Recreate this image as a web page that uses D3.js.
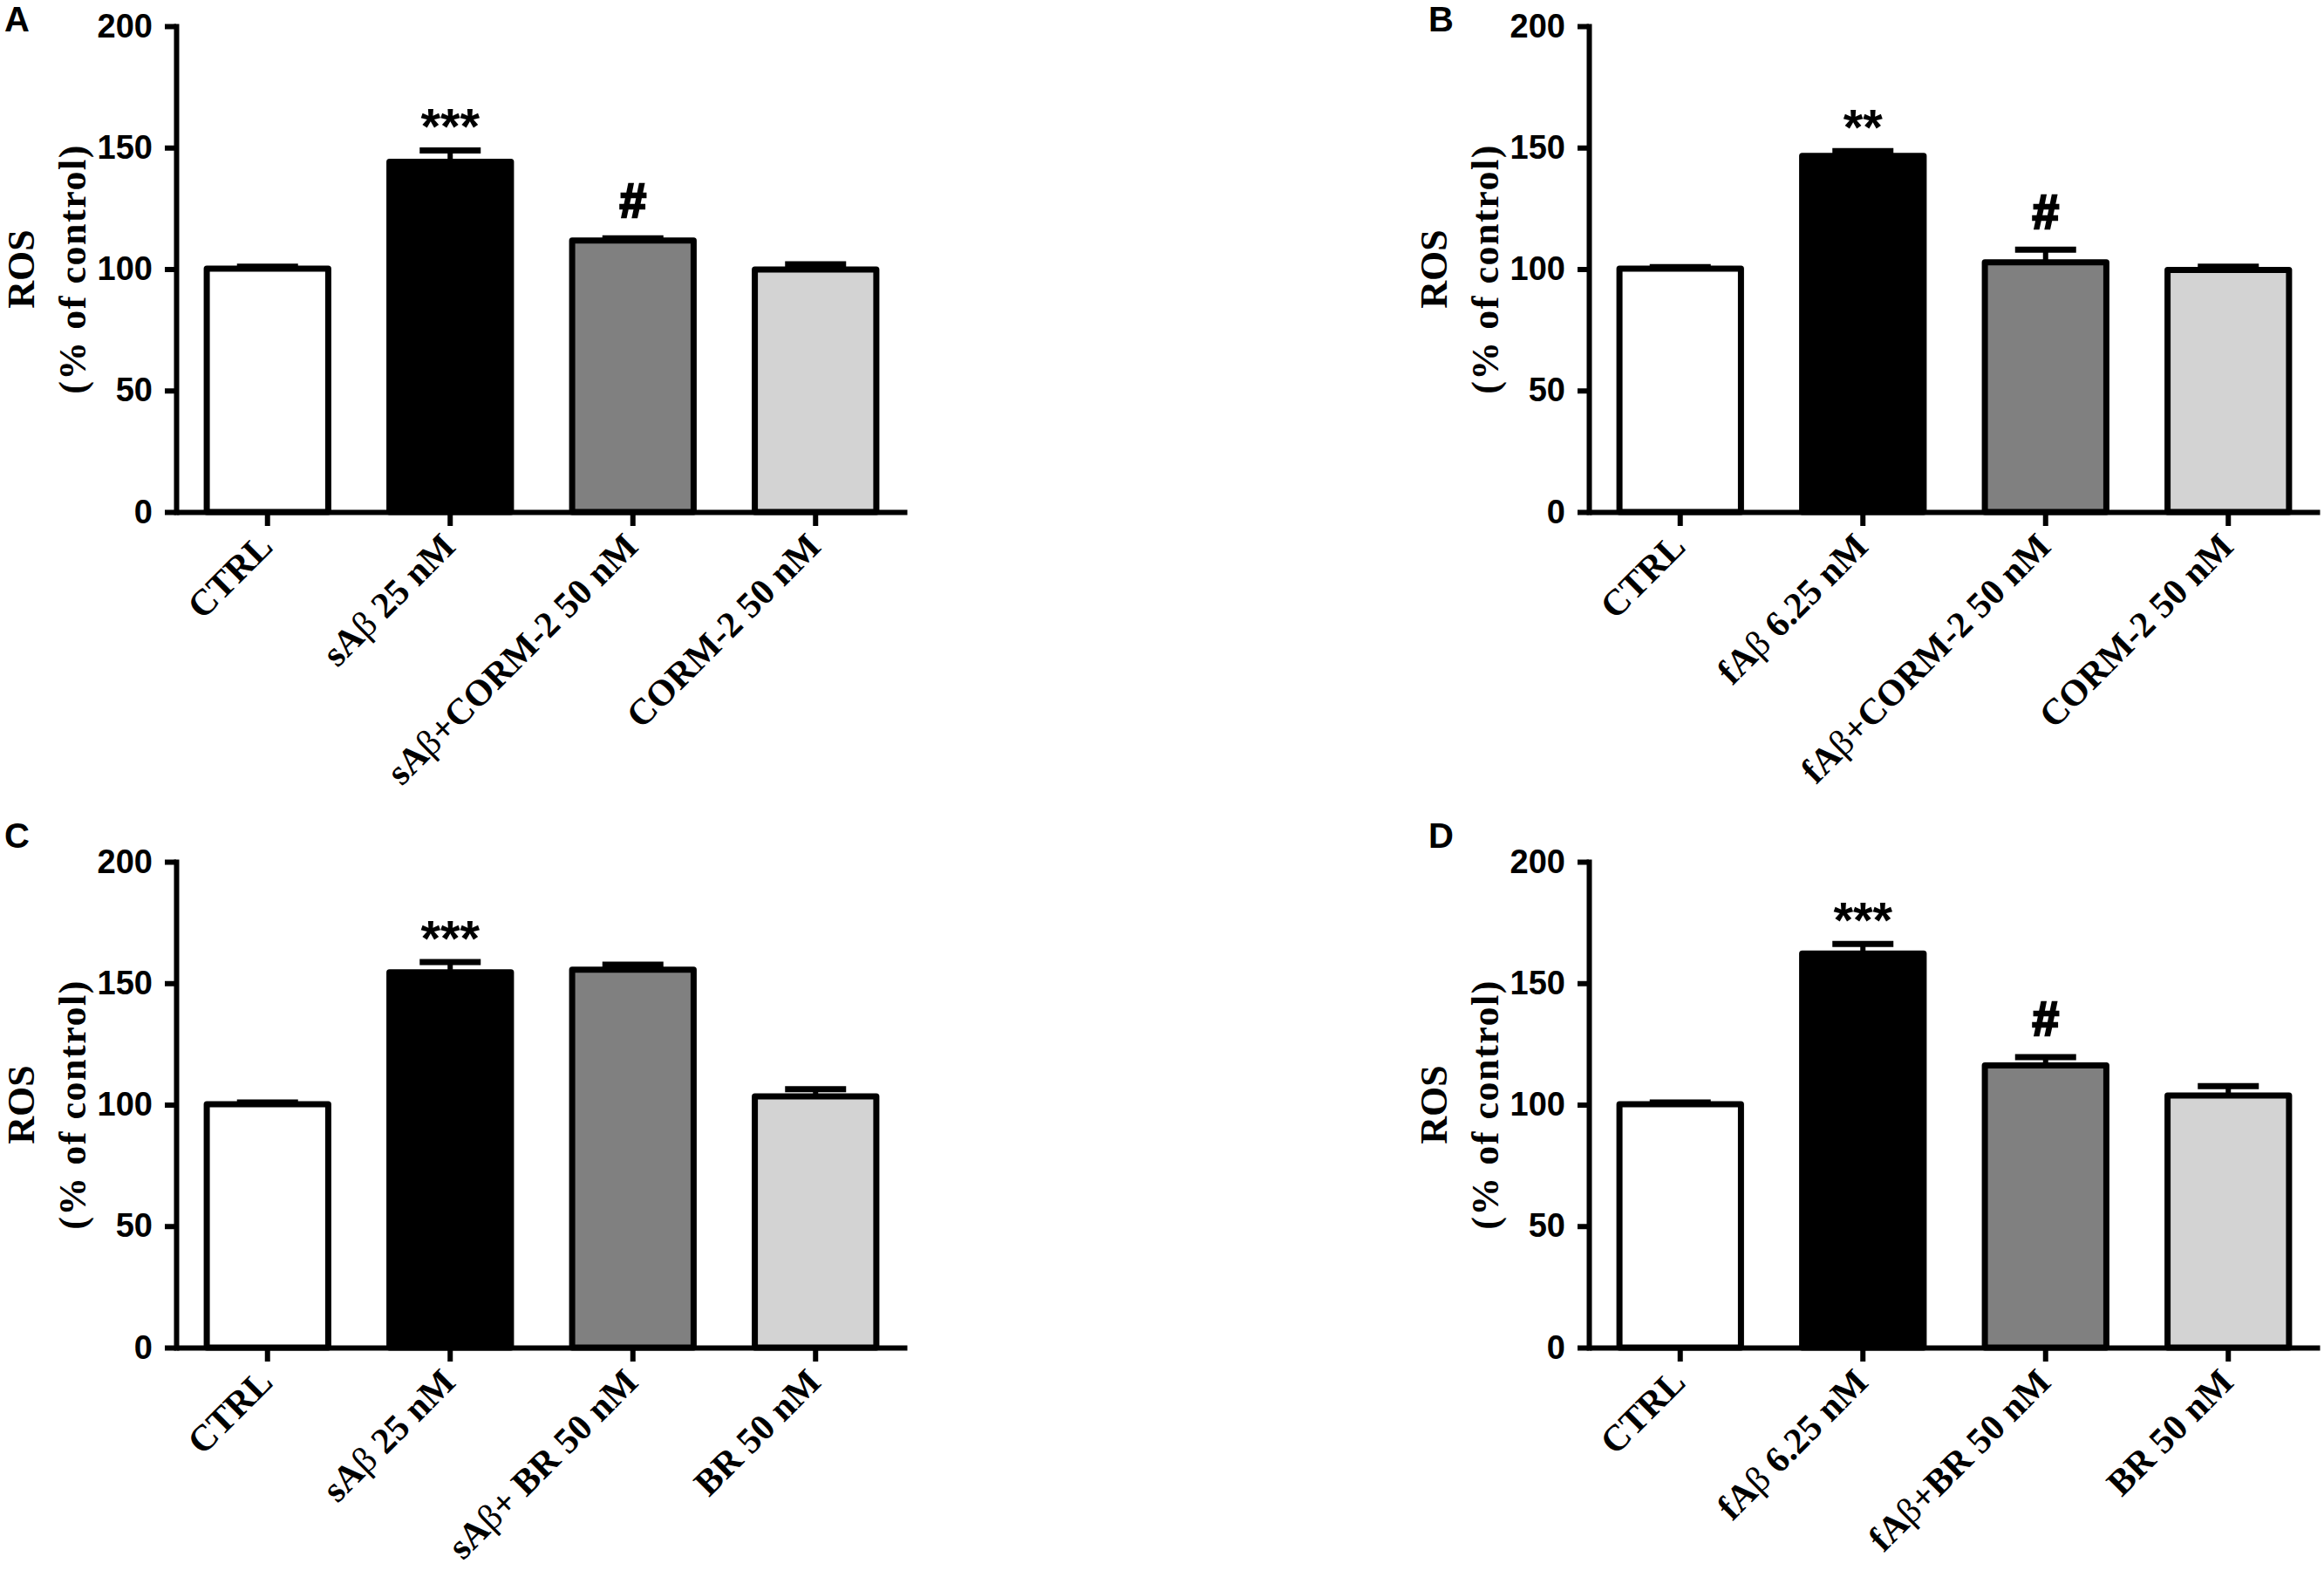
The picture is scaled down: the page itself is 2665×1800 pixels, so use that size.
<!DOCTYPE html>
<html>
<head>
<meta charset="utf-8">
<script src="https://cdn.jsdelivr.net/npm/d3@7"></script>
<style>
  body { margin: 0; background: #ffffff; }
</style>
</head>
<body>
<div id="chart"></div>
<script>
// values (ROS, % of control, mean and SEM)
const categoriesA = ["CTRL", "sAβ 25 nM", "sAβ+CORM-2 50 nM", "CORM-2 50 nM"]
const meansA = [100.2, 144.2, 111.8, 99.8]
const semsA = [0.8, 4.6, 0.9, 2.2]
const marksA = ["", "***", "#", ""]

const categoriesB = ["CTRL", "fAβ 6.25 nM", "fAβ+CORM-2 50 nM", "CORM-2 50 nM"]
const meansB = [100.2, 146.6, 102.8, 99.6]
const semsB = [0.6, 2.0, 5.2, 1.4]
const marksB = ["", "**", "#", ""]

const categoriesC = ["CTRL", "sAβ 25 nM", "sAβ+ BR 50 nM", "BR 50 nM"]
const meansC = [100.2, 154.5, 155.6, 103.4]
const semsC = [0.7, 4.2, 2.0, 3.0]
const marksC = ["", "***", "", ""]

const categoriesD = ["CTRL", "fAβ 6.25 nM", "fAβ+BR 50 nM", "BR 50 nM"]
const meansD = [100.2, 162.2, 116.2, 103.8]
const semsD = [0.7, 4.0, 3.4, 3.8]
const marksD = ["", "***", "#", ""]

const yTicks = [0, 50, 100, 150, 200]
const panelLetters = ["A", "B", "C", "D"]

const barFills = ["#ffffff", "#000000", "#808080", "#d3d3d3"]
const serif = "'Liberation Serif', 'Times New Roman', serif"
const sans = "'Liberation Sans', Arial, sans-serif"

var width = 2665
var height = 1800

var svg = d3.select("#chart")
    .append("svg")
    .attr("width", width)
    .attr("height", height)
    .style("background", "#ffffff")

const panels = [
    { letter: panelLetters[0], cats: categoriesA, means: meansA, sems: semsA, marks: marksA, dx: 0, dy: 0, lx: 5, ly: 36 },
    { letter: panelLetters[1], cats: categoriesB, means: meansB, sems: semsB, marks: marksB, dx: 1620, dy: 0, lx: 1638, ly: 36 },
    { letter: panelLetters[2], cats: categoriesC, means: meansC, sems: semsC, marks: marksC, dx: 0, dy: 958, lx: 5, ly: 972 },
    { letter: panelLetters[3], cats: categoriesD, means: meansD, sems: semsD, marks: marksD, dx: 1620, dy: 958, lx: 1638, ly: 972 }
]

// every panel shares the same frame, only shifted
const x0 = 202, x1 = 1040, yTop = 30, yBottom = 587

function drawPanel(p) {
    // panel letter
    svg.append("text")
        .attr("x", p.lx)
        .attr("y", p.ly)
        .style("font-family", sans)
        .style("font-weight", "bold")
        .style("font-size", "40px")
        .text(p.letter)

    var g = svg.append("g")
        .attr("transform", "translate(" + p.dx + "," + p.dy + ")")

    var y = d3.scaleLinear()
        .domain([0, 200])
        .range([yBottom, yTop])

    var x = d3.scaleBand()
        .domain(p.cats)
        .range([x0, x1])
        .paddingInner(0.335)
        .paddingOuter(0.1675)

    // bars
    g.selectAll(".bar")
        .data(p.cats)
        .enter().append("rect")
        .attr("class", "bar")
        .attr("x", d => x(d))
        .attr("width", x.bandwidth())
        .attr("y", (d, i) => y(p.means[i]))
        .attr("height", (d, i) => y(0) - y(p.means[i]))
        .style("fill", (d, i) => barFills[i])
        .style("stroke", "#000")
        .style("stroke-width", 7)
        .style("stroke-linejoin", "round")

    // error bars (upper side only)
    var err = g.selectAll(".err")
        .data(p.cats)
        .enter().append("g")
        .attr("class", "err")
    err.append("line")
        .attr("x1", d => x(d) + x.bandwidth() / 2)
        .attr("x2", d => x(d) + x.bandwidth() / 2)
        .attr("y1", (d, i) => y(p.means[i]))
        .attr("y2", (d, i) => y(p.means[i] + p.sems[i]))
        .style("stroke", "#000")
        .style("stroke-width", 6)
    err.append("line")
        .attr("x1", d => x(d) + x.bandwidth() / 2 - 35)
        .attr("x2", d => x(d) + x.bandwidth() / 2 + 35)
        .attr("y1", (d, i) => y(p.means[i] + p.sems[i]))
        .attr("y2", (d, i) => y(p.means[i] + p.sems[i]))
        .style("stroke", "#000")
        .style("stroke-width", 7)

    // significance marks
    g.selectAll(".mark")
        .data(p.cats)
        .enter().append("text")
        .attr("class", "mark")
        .attr("x", d => x(d) + x.bandwidth() / 2)
        .attr("y", (d, i) => {
            var capTop = y(p.means[i] + p.sems[i]) - 3.5
            return p.marks[i] == "#" ? capTop - 21 : capTop - 4
        })
        .attr("text-anchor", "middle")
        .style("font-family", sans)
        .style("font-weight", "bold")
        .style("font-size", (d, i) => p.marks[i] == "#" ? "55px" : "58px")
        .style("stroke", (d, i) => p.marks[i] == "#" ? "#000" : "none")
        .style("stroke-width", 2.5)
        .text((d, i) => p.marks[i])

    // y axis
    var yAxis = g.append("g")
        .attr("transform", "translate(" + x0 + ",0)")
        .call(d3.axisLeft(y).tickValues(yTicks).tickSize(13).tickSizeOuter(0).tickPadding(14))
    yAxis.select(".domain")
        .style("stroke-width", 6)
        .style("stroke-linecap", "square")
    yAxis.selectAll(".tick line").style("stroke-width", 6)
    yAxis.selectAll(".tick text")
        .style("font-family", sans)
        .style("font-weight", "bold")
        .style("font-size", "38px")
        .style("fill", "#000")

    // x axis
    var xAxis = g.append("g")
        .attr("transform", "translate(0," + yBottom + ")")
        .call(d3.axisBottom(x).tickSize(16).tickSizeOuter(0))
    xAxis.select(".domain")
        .style("stroke-width", 6)
    xAxis.selectAll(".tick line").style("stroke-width", 6)
    xAxis.selectAll(".tick text")
        .attr("x", null)
        .attr("y", null)
        .attr("dy", null)
        .attr("text-anchor", "end")
        .attr("transform", "translate(8,42) rotate(-45)")
        .style("font-family", serif)
        .style("font-weight", "bold")
        .style("font-size", "42px")
        .style("fill", "#000")
        .each(function (d) {
            var t = d3.select(this)
            t.text("")
            var parts = d.split("β")
            parts.forEach(function (part, i) {
                if (i > 0) {
                    t.append("tspan").style("font-weight", "normal").text("β")
                }
                if (part.length) t.append("tspan").text(part)
            })
        })

    // y title, two lines
    var ymid = (yTop + yBottom) / 2
    g.append("text")
        .attr("transform", "translate(39," + ymid + ") rotate(-90)")
        .attr("text-anchor", "middle")
        .style("font-family", serif)
        .style("font-weight", "bold")
        .style("font-size", "44px")
        .text("ROS")
    g.append("text")
        .attr("transform", "translate(98," + ymid + ") rotate(-90)")
        .attr("text-anchor", "middle")
        .style("font-family", serif)
        .style("font-weight", "bold")
        .style("font-size", "44px")
        .style("letter-spacing", "1.5px")
        .text("(% of control)")
}

panels.forEach(drawPanel)
</script>
</body>
</html>
